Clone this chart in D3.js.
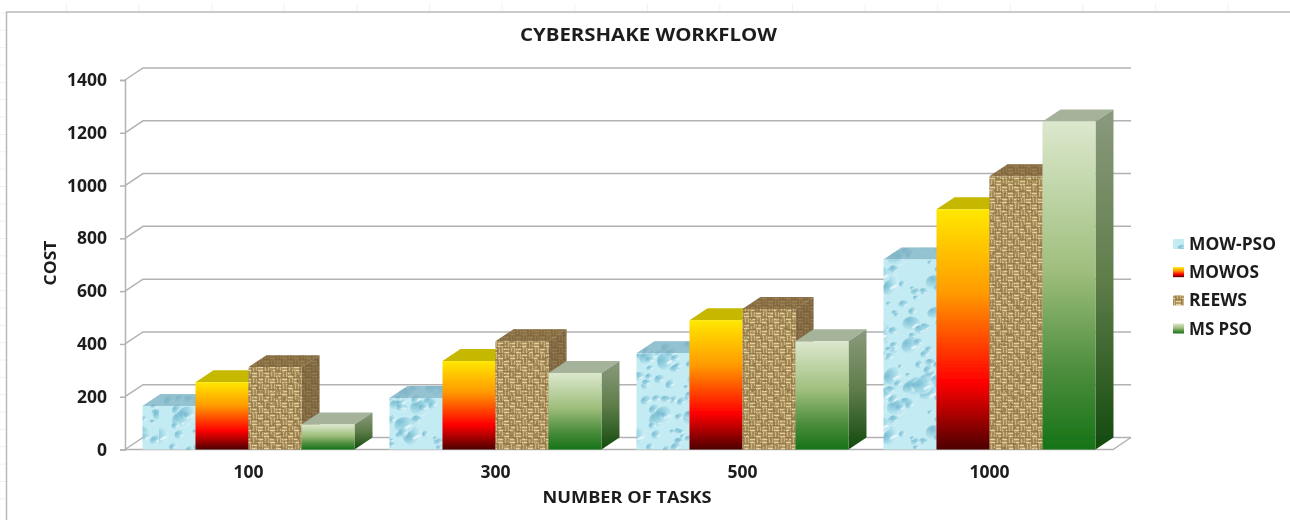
<!DOCTYPE html>
<html><head><meta charset="utf-8">
<script src="https://cdnjs.cloudflare.com/ajax/libs/d3/7.8.5/d3.min.js"></script>
<style>html,body{margin:0;padding:0;background:#fff;overflow:hidden}svg{display:block}text{font-family:"Open Sans",sans-serif;font-weight:700;fill:#1c1c1c}</style>
</head><body><svg id="c" width="1290" height="520"></svg>
<script>
const categories = ["100","300","500","1000"];
const seriesNames = ["MOW-PSO","MOWOS","REEWS","MS PSO"];
const mowPso = [165,195,365,720];
const mowos = [255,335,490,910];
const reews = [312,410,532,1035];
const msPso = [95,290,410,1243];
const yTicks = [0,200,400,600,800,1000,1200,1400];
const seriesValues = [mowPso,mowos,reews,msPso];

const svg = d3.select("#c");
const defs = svg.append("defs");
const dx = 18, dy = -12;
const grey = "#b2b2b2";

// sheet background marks
const sheet = svg.append("g").attr("stroke","#f1f1f1").attr("stroke-width",1);
d3.range(0,18).forEach(k=>{const x=66.5+72.6*k; sheet.append("line").attr("x1",x).attr("x2",x).attr("y1",4).attr("y2",12);});
d3.range(0,29).forEach(k=>{const y=13+17.35*k; sheet.append("line").attr("x1",0).attr("x2",6).attr("y1",y).attr("y2",y);});

const root = svg.append("g");
defs.append("filter").attr("id","soft").attr("x","-2%").attr("y","-2%").attr("width","104%").attr("height","104%")
  .append("feGaussianBlur").attr("stdDeviation",0.45);
root.attr("filter","url(#soft)");

// frame
root.append("path").attr("d","M1290,12H6.5V520").attr("fill","none").attr("stroke","#b9b9b9").attr("stroke-width",1.5);

const x0 = d3.scaleBand().domain(categories).range([125,1113]).paddingInner(0.1417).paddingOuter(0.0709);
const x1 = d3.scaleBand().domain(seriesNames).range([0,x0.bandwidth()]);
const y = d3.scaleLinear().domain([0,1400]).range([449.5,80]);

// gradients
function grad(id,stops){
  const g=defs.append("linearGradient").attr("id",id).attr("x1",0).attr("x2",0).attr("y1",0).attr("y2",1);
  stops.forEach(s=>g.append("stop").attr("offset",s[0]).attr("stop-color",s[1]));
}
grad("gFire",[[0,"#ffe800"],[.35,"#ff9a00"],[.72,"#ff0000"],[.86,"#a80000"],[1,"#4c0404"]]);
grad("gGreen",[[0,"#dce8cd"],[.45,"#a0bf7e"],[.75,"#4f8f3e"],[1,"#167316"]]);
grad("gGreenSide",[[0,"#8b9a7e"],[.5,"#5f7d4a"],[1,"#134a0e"]]);
grad("gFireSide",[[0,"#b09a00"],[.5,"#a00000"],[1,"#300000"]]);

// water texture: fixed hash so the decoration is the same on every run
const frac=v=>v-Math.floor(v);
const hash=(i,k)=>frac(Math.sin(i*12.9898+k*78.233)*43758.5453);
const rg=defs.append("radialGradient").attr("id","drop").attr("cx",.3).attr("cy",.25).attr("r",.95);
[[0,"#6db3cb"],[.5,"#a2d9e7"],[.85,"#d6f2f8"],[1,"#c2e9f1"]].forEach(s=>rg.append("stop").attr("offset",s[0]).attr("stop-color",s[1]));
const tw=159, th=150;
const water=defs.append("pattern").attr("id","water").attr("patternUnits","userSpaceOnUse").attr("width",tw).attr("height",th);
water.append("rect").attr("width",tw).attr("height",th).attr("fill","#c3ebf3");
d3.range(190).forEach(i=>{
  const cx=hash(i,1)*tw, cy=hash(i,2)*th, big=hash(i,3);
  const r=big>.8?6+big*4:2.5+big*4.5;
  water.append("ellipse").attr("cx",cx).attr("cy",cy).attr("rx",r).attr("ry",r*(.6+hash(i,4)*.3))
    .attr("transform",`rotate(${-50+hash(i,5)*70} ${cx} ${cy})`).attr("fill","url(#drop)").attr("opacity",.8);
  water.append("ellipse").attr("cx",cx+r*.25).attr("cy",cy+r*.35).attr("rx",r*.42).attr("ry",r*.14)
    .attr("transform",`rotate(-30 ${cx} ${cy})`).attr("fill","#f4fdff").attr("opacity",.7);
});

// burlap texture
const noise=defs.append("filter").attr("id","noise").attr("x",0).attr("y",0).attr("width","100%").attr("height","100%");
noise.append("feTurbulence").attr("type","fractalNoise").attr("baseFrequency",0.3).attr("numOctaves",2).attr("seed",7).attr("result","n");
noise.append("feColorMatrix").attr("in","n").attr("type","matrix").attr("values","0 0 0 0 .30  0 0 0 0 .20  0 0 0 0 .07  0 0 0 5 -2.7").attr("result","s");
noise.append("feComposite").attr("in","s").attr("in2","SourceAlpha").attr("operator","in").attr("result","c");
noise.append("feMerge").selectAll("feMergeNode").data(["SourceGraphic","c"]).enter().append("feMergeNode").attr("in",d=>d);
const burlap=defs.append("pattern").attr("id","burlap").attr("patternUnits","userSpaceOnUse").attr("width",12).attr("height",12);
burlap.append("rect").attr("width",12).attr("height",12).attr("fill","#806438");
[[0,0],[6,6]].forEach(c=>{ d3.range(2).forEach(k=>burlap.append("rect").attr("x",c[0]).attr("y",c[1]+k*3+.5).attr("width",5.4).attr("height",2).attr("fill","#e6d19c")); });
[[6,0],[0,6]].forEach(c=>{ d3.range(2).forEach(k=>burlap.append("rect").attr("x",c[0]+k*3+.5).attr("y",c[1]).attr("width",2).attr("height",5.4).attr("fill","#cfb57c")); });

const styles = [
 {front:"url(#water)", top:"#7fb0c1", side:"#6f9fb0", topTex:"url(#water)"},
 {front:"url(#gFire)", top:"#c6b800", side:"url(#gFireSide)"},
 {front:"url(#burlap)", top:"#7a5f37", side:"#6f5733", topTex:"url(#burlap)", noise:true},
 {front:"url(#gGreen)", top:"#a5b39a", side:"url(#gGreenSide)"}
];

// axis, walls
const axis = root.append("g").attr("transform","translate(125,0)")
  .call(d3.axisLeft(y).tickValues(yTicks).tickSize(5).tickPadding(13).tickFormat(d3.format("d")));
axis.selectAll("path,line").attr("stroke",grey).attr("stroke-width",1.5);
axis.selectAll("text").attr("font-size",17.5).attr("fill","#1c1c1c");
const x2 = x0.range()[1];
const walls = root.append("g");
yTicks.forEach(t=>{
  walls.append("path").attr("fill","none").attr("stroke",grey).attr("stroke-width",1.5)
    .attr("d",d3.line()([[125,y(t)],[125+dx,y(t)+dy],[x2+dx,y(t)+dy]]));
});
walls.append("path").attr("fill","none").attr("stroke",grey).attr("stroke-width",1.5)
  .attr("d",d3.line()([[125,y(0)],[x2,y(0)],[x2+dx,y(0)+dy]]));

// bars
categories.forEach((c,ci)=>{
  const g=root.append("g");
  seriesNames.forEach((s,si)=>{
    const v=seriesValues[si][ci], st=styles[si];
    const l=x0(c)+x1(s), r=l+x1.bandwidth(), t=y(v), b=y(0);
    const poly=(pts,fill)=>g.append("polygon").attr("points",pts.map(q=>q.join(",")).join(" ")).attr("fill",fill);
    const topPts=[[l,t],[l+dx,t+dy],[r+dx,t+dy],[r,t]];
    const sidePts=[[r,t],[r+dx,t+dy],[r+dx,b+dy],[r,b]];
    poly(topPts,st.top); poly(sidePts,st.side);
    if(st.topTex){ poly(topPts,st.topTex).attr("opacity",.3); poly(sidePts,st.topTex).attr("opacity",.3); }
    const f=g.append("rect").attr("x",l).attr("y",t).attr("width",r-l).attr("height",b-t).attr("fill",st.front);
    if(st.noise) f.attr("filter","url(#noise)");
  });
});

// category labels
categories.forEach(c=>root.append("text").attr("x",x0(c)+x0.bandwidth()/2).attr("y",478).attr("text-anchor","middle").attr("font-size",17.5).text(c));

// titles
const fit=(sel,len)=>sel.attr("textLength",len).attr("lengthAdjust","spacingAndGlyphs");
fit(root.append("text").attr("x",648.5).attr("y",40.5).attr("text-anchor","middle").attr("font-size",17.5).text("CYBERSHAKE WORKFLOW"),257);
fit(root.append("text").attr("x",627).attr("y",502.5).attr("text-anchor","middle").attr("font-size",15.5).text("NUMBER OF TASKS"),169);
fit(root.append("text").attr("transform","translate(56,263) rotate(-90)").attr("text-anchor","middle").attr("font-size",15.5).text("COST"),45);

// legend
const legY=d3.scalePoint().domain(seriesNames).range([244,328.5]);
const swatch=["url(#water)","url(#gFire)","url(#burlap)","url(#gGreen)"];
const legendWidths=[87,70,58,63];
seriesNames.forEach((s,i)=>{
  root.append("rect").attr("x",1173).attr("y",legY(s)-5).attr("width",11).attr("height",10).attr("fill",swatch[i]);
  fit(root.append("text").attr("x",1189).attr("y",legY(s)+6).attr("font-size",17).text(s),legendWidths[i]);
});
</script></body></html>
